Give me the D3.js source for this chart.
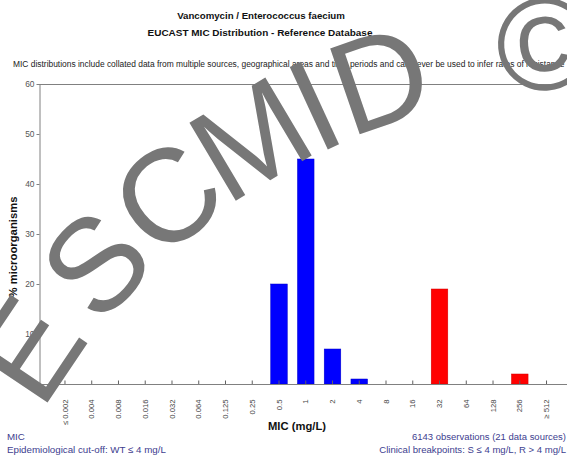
<!DOCTYPE html>
<html>
<head>
<meta charset="utf-8">
<script src="https://cdn.jsdelivr.net/npm/d3@7"></script>
<style>
  html, body { margin: 0; padding: 0; background: #fff; }
  svg { display: block; font-family: "Liberation Sans", Arial, sans-serif; }
</style>
</head>
<body>
<svg id="chart" width="567" height="455"></svg>
<script>
const categories = ["≤ 0.002", "0.004", "0.008", "0.016", "0.032", "0.064", "0.125", "0.25", "0.5", "1", "2", "4", "8", "16", "32", "64", "128", "256", "≥ 512"];
const percentValues = [0, 0, 0, 0, 0, 0, 0, 0, 20, 45, 7, 1, 0, 0, 19, 0, 0, 2, 0];
const wildType = [true, true, true, true, true, true, true, true, true, true, true, true, false, false, false, false, false, false, false];
const yTicks = [0, 10, 20, 30, 40, 50, 60];

const svg = d3.select("#chart");
const W = 567, H = 455;
const axisLeftX = 39, yBottom = 384, yTop = 84;

function fitWidth(sel, target) {
  const fs = parseFloat(sel.attr("font-size"));
  const w = sel.node().getComputedTextLength();
  sel.attr("font-size", (fs * target / w).toFixed(2));
}

const x = d3.scaleBand().domain(categories).range([51.6, 559.9]).paddingInner(0.38).paddingOuter(0.19);
const y = d3.scaleLinear().domain([0, 60]).range([yBottom, yTop]);

// titles
const t1 = svg.append("text").attr("x", 261).attr("y", 19).attr("text-anchor", "middle")
  .attr("font-weight", "bold").attr("font-size", 10).attr("fill", "#111").text("Vancomycin / Enterococcus faecium");
fitWidth(t1, 168);
const t2 = svg.append("text").attr("x", 260).attr("y", 36).attr("text-anchor", "middle")
  .attr("font-weight", "bold").attr("font-size", 10).attr("fill", "#111").text("EUCAST MIC Distribution - Reference Database");
fitWidth(t2, 225);
const sub = svg.append("text").attr("x", 13).attr("y", 67)
  .attr("font-size", 8).attr("fill", "#222").text("MIC distributions include collated data from multiple sources, geographical areas and time periods and can never be used to infer rates of resistance");
fitWidth(sub, 552);

// frame line
svg.append("line").attr("x1", axisLeftX).attr("x2", W).attr("y1", yTop + 0.5).attr("y2", yTop + 0.5)
  .attr("stroke", "#808080").attr("stroke-width", 1);

// bars
svg.append("g").selectAll("rect").data(categories).join("rect")
  .attr("x", d => x(d))
  .attr("width", x.bandwidth())
  .attr("y", (d, i) => y(percentValues[i]))
  .attr("height", (d, i) => yBottom - y(percentValues[i]))
  .attr("fill", (d, i) => wildType[i] ? "#0000ff" : "#ff0000")
  .attr("stroke", (d, i) => wildType[i] ? "#0000c8" : "#d00000")
  .attr("stroke-width", 0.5);

// y axis
const gy = svg.append("g").attr("transform", `translate(${axisLeftX + 0.5},0)`)
  .call(d3.axisLeft(y).tickValues(yTicks).tickSizeInner(3).tickSizeOuter(0).tickPadding(2));
gy.select(".domain").attr("stroke", "#808080");
gy.selectAll(".tick line").attr("stroke", "#808080");
gy.selectAll(".tick text").attr("font-size", 8.4).attr("fill", "#555").attr("font-family", "Liberation Sans, Arial, sans-serif");

// x axis
const gx = svg.append("g").attr("transform", `translate(0,${yBottom + 0.5})`)
  .call(d3.axisBottom(x).tickSizeInner(-4).tickSizeOuter(0).tickPadding(0));
gx.select(".domain").remove();
gx.append("line").attr("x1", axisLeftX).attr("x2", W).attr("y1", 0).attr("y2", 0).attr("stroke", "#808080");
gx.selectAll(".tick line").attr("stroke", "#606060");
gx.selectAll(".tick text")
  .attr("font-size", 7.7).attr("fill", "#444").attr("font-family", "Liberation Sans, Arial, sans-serif")
  .attr("transform", "rotate(-90)")
  .attr("text-anchor", "end")
  .attr("x", -15).attr("y", 0).attr("dy", "0.35em");

// axis titles
const xt = svg.append("text").attr("x", 297).attr("y", 430).attr("text-anchor", "middle")
  .attr("font-weight", "bold").attr("font-size", 11).attr("fill", "#111").text("MIC (mg/L)");
fitWidth(xt, 58);
const yt = svg.append("text").attr("transform", "translate(17,247) rotate(-90)").attr("text-anchor", "middle")
  .attr("font-weight", "bold").attr("font-size", 10.7).attr("fill", "#111").text("% microorganisms");
fitWidth(yt, 101);

// footer
const footColor = "#40408f";
const f1 = svg.append("text").attr("x", 7).attr("y", 440).attr("font-size", 8).attr("fill", footColor).text("MIC");
const f2 = svg.append("text").attr("x", 7).attr("y", 453).attr("font-size", 8).attr("fill", footColor).text("Epidemiological cut-off: WT ≤ 4 mg/L");
fitWidth(f2, 159);
f1.attr("font-size", f2.attr("font-size"));
const f3 = svg.append("text").attr("x", 566).attr("y", 440).attr("text-anchor", "end").attr("font-size", 8).attr("fill", footColor).text("6143 observations (21 data sources)");
fitWidth(f3, 154);
const f4 = svg.append("text").attr("x", 566).attr("y", 453).attr("text-anchor", "end").attr("font-size", 8).attr("fill", footColor).text("Clinical breakpoints: S ≤ 4 mg/L, R > 4 mg/L");
fitWidth(f4, 187);

// watermark on a gentle arc
svg.append("defs").append("path").attr("id", "wmPath")
  .attr("d", "M42.7,412.2 A650,650 0 0 1 605,87");
svg.append("text")
  .attr("font-size", 132).attr("fill", "#777").attr("font-family", "Liberation Sans, Arial, sans-serif")
  .append("textPath").attr("href", "#wmPath")
  .append("tspan").attr("dx", "0 14 0 -8 -6 0 0 25").text("ESCMID ©");
</script>
</body>
</html>
